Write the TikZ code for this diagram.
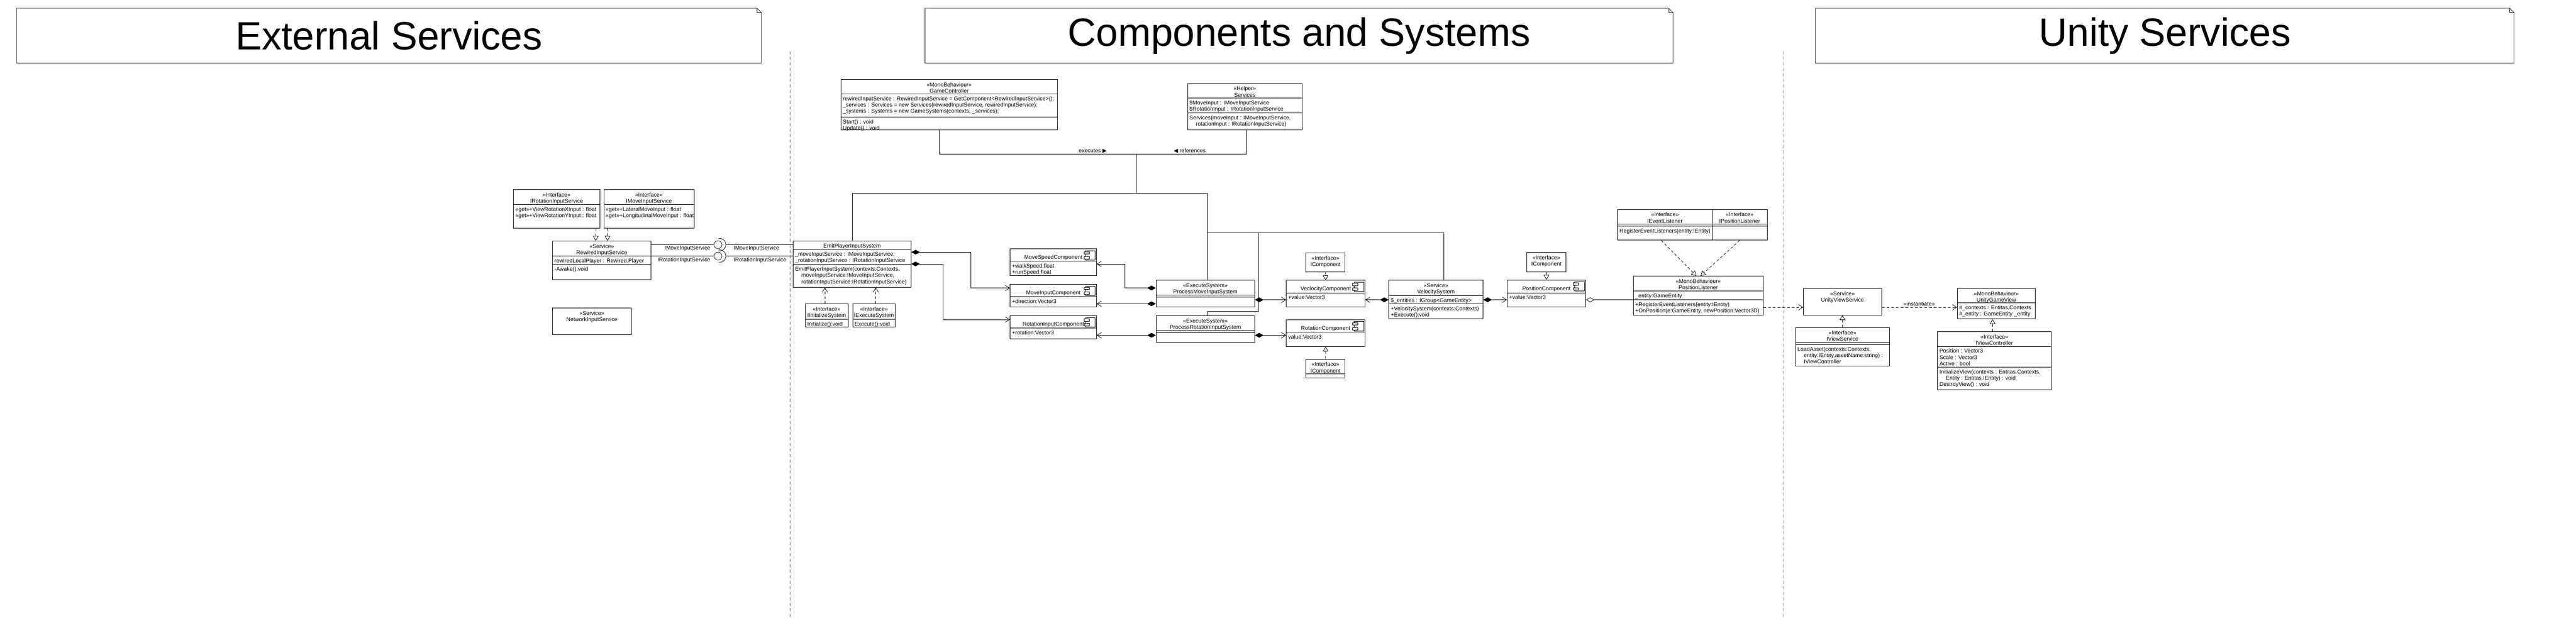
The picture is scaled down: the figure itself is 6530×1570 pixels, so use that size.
\documentclass[tikz,border=0pt]{standalone}
\usepackage{fontspec}
\setmainfont{Liberation Sans}
\newfontfamily\symfont{DejaVu Sans}
\usetikzlibrary{arrows.meta,calc}

\begin{document}
\begin{tikzpicture}[x=1pt,y=1pt,yscale=-1,xscale=1,line width=1pt,
  every node/.style={inner sep=0pt,font=\fontsize{14}{16}\selectfont},
  cls/.style={draw,anchor=north west},
  hdr/.style={anchor=north,align=center},
  txt/.style={anchor=north west,align=left},
  note title/.style={anchor=north west,font=\fontsize{100}{110}\selectfont},
  divider/.style={black!60,dash pattern=on 8pt off 6pt},
  realize/.style={dash pattern=on 7pt off 5pt,-{Triangle[open,length=12pt,width=14pt]}},
  depend/.style={dash pattern=on 7pt off 5pt,-{Straight Barb[length=11pt,width=14pt]}},
  compose/.style={{Diamond[length=22pt,width=12pt]}-{Straight Barb[length=11pt,width=14pt]}},
  aggreg/.style={{Diamond[open,length=22pt,width=12pt]}-},
  compicon/.pic={
    \draw[fill=white] (-24,0) rectangle (0,-24);
    \draw[fill=white] (-28,-3) rectangle (-15,-9);
    \draw[fill=white] (-28,-15) rectangle (-15,-21);
  }]
\useasboundingbox (0,0) rectangle (6530,1570);

%Shape: Note titles
\node[note title,minimum width=1887,minimum height=138] (extTitle) at (42,21) {External Services};
\node[note title,minimum width=1895,minimum height=138] (compTitle) at (2345,21) {Components and Systems};
\node[note title,minimum width=1770,minimum height=138] (unityTitle) at (4602,21) {Unity Services};
\draw (extTitle.north west) -- ($(extTitle.north east)+(-11,0)$) -- ($(extTitle.north east)+(0,11)$) -- (extTitle.south east) -- (extTitle.south west) -- cycle;
\draw ($(extTitle.north east)+(-11,0)$) |- ($(extTitle.north east)+(0,11)$);
\draw (compTitle.north west) -- ($(compTitle.north east)+(-11,0)$) -- ($(compTitle.north east)+(0,11)$) -- (compTitle.south east) -- (compTitle.south west) -- cycle;
\draw ($(compTitle.north east)+(-11,0)$) |- ($(compTitle.north east)+(0,11)$);
\draw (unityTitle.north west) -- ($(unityTitle.north east)+(-11,0)$) -- ($(unityTitle.north east)+(0,11)$) -- (unityTitle.south east) -- (unityTitle.south west) -- cycle;
\draw ($(unityTitle.north east)+(-11,0)$) |- ($(unityTitle.north east)+(0,11)$);

%Straight Lines: dividers
\draw[divider] (2002,130) -- (2002,1570);
\draw[divider] (4522,130) -- (4522,1570);

%%%%%%%% External Services
% Class: IRotationInputService
\node[cls,minimum width=219,minimum height=98] (IRotIn) at (1301,481) {};
\draw ($(IRotIn.north west)+(0,38)$) -- ($(IRotIn.north east)+(0,38)$);
\node[hdr] (IRotInH) at ($(IRotIn.north)+(0,7)$) {\strut«Interface»\\IRotationInputService};
\node[txt] (IRotInA) at ($(IRotIn.north west)+(5,43)$) {\strut«get»+ViewRotationXInput : float\\«get»+ViewRotationYInput : float};
% Class: IMoveInputService
\node[cls,minimum width=229,minimum height=98] (IMoveIn) at (1530,481) {};
\draw ($(IMoveIn.north west)+(0,38)$) -- ($(IMoveIn.north east)+(0,38)$);
\node[hdr] (IMoveInH) at ($(IMoveIn.north)+(0,7)$) {\strut«Interface»\\IMoveInputService};
\node[txt] (IMoveInA) at ($(IMoveIn.north west)+(5,43)$) {\strut«get»+LateralMoveInput : float\\«get»+LongitudinalMoveInput : float};
% Class: RewiredInputService
\node[cls,minimum width=250,minimum height=98] (Rewired) at (1400,611) {};
\draw ($(Rewired.north west)+(0,39)$) -- ($(Rewired.north east)+(0,39)$);
\draw ($(Rewired.north west)+(0,60)$) -- ($(Rewired.north east)+(0,60)$);
\node[hdr] (RewiredH) at ($(Rewired.north)+(0,7)$) {\strut«Service»\\RewiredInputService};
\node[txt] (RewiredA) at ($(Rewired.north west)+(5,44)$) {\strut rewiredLocalPlayer : Rewired.Player};
\node[txt] (RewiredO) at ($(Rewired.north west)+(5,65)$) {\strut-Awake():void};
% Class: NetworkInputService
\node[cls,minimum width=200,minimum height=68] (NetIn) at (1400,781) {};
\node[hdr] (NetInH) at ($(NetIn.north)+(0,7)$) {\strut«Service»\\NetworkInputService};

% Realizations
\draw[realize] ($(IRotIn.south east)+(-10,0)$) -- ($(Rewired.north west)+(110,0)$);
\draw[realize] ($(IMoveIn.south west)+(10,0)$) -- ($(Rewired.north west)+(140,0)$);

%%%%%%%% Components and Systems
% Class: EmitPlayerInputSystem
\node[cls,minimum width=299,minimum height=118] (Emit) at (2010,611) {};
\draw ($(Emit.north west)+(0,22)$) -- ($(Emit.north east)+(0,22)$);
\draw ($(Emit.north west)+(0,60)$) -- ($(Emit.north east)+(0,60)$);
\node[hdr] (EmitH) at ($(Emit.north)+(0,6)$) {\strut EmitPlayerInputSystem};
\node[txt] (EmitA) at ($(Emit.north west)+(5,27)$) {\strut\_moveInputService : IMoveInputService;\\\_rotationInputService : IRotationInputService};
\node[txt] (EmitO) at ($(Emit.north west)+(5,65)$) {\strut EmitPlayerInputSystem(contexts:Contexts,\\\hspace*{16pt}moveInputService:IMoveInputService,\\\hspace*{16pt}rotationInputService:IRotationInputService)};
% Class: IInitalizeSystem
\node[cls,minimum width=108,minimum height=58] (IInit) at (2041,771) {};
\draw ($(IInit.north west)+(0,39)$) -- ($(IInit.north east)+(0,39)$);
\node[hdr] (IInitH) at ($(IInit.north)+(0,7)$) {\strut«Interface»\\IInitalizeSystem};
\node[txt] (IInitO) at ($(IInit.north west)+(5,44)$) {\strut Initialize():void};
% Class: IExecuteSystem
\node[cls,minimum width=108,minimum height=58] (IExec) at (2161,771) {};
\draw ($(IExec.north west)+(0,39)$) -- ($(IExec.north east)+(0,39)$);
\node[hdr] (IExecH) at ($(IExec.north)+(0,7)$) {\strut«Interface»\\IExecuteSystem};
\node[txt] (IExecO) at ($(IExec.north west)+(5,44)$) {\strut Execute():void};

% Provided / required interfaces
\coordinate (sockM) at (1820,621);
\coordinate (sockR) at (1820,650);
\draw ($(Rewired.north east)+(0,10)$) -- ($(sockM)+(-10,0)$);
\draw ($(Rewired.north east)+(0,39)$) -- ($(sockR)+(-10,0)$);
\draw (sockM) circle[radius=10];
\draw (sockR) circle[radius=10];
\draw ($(sockM)+(4,0)+(100:16)$) arc[start angle=100,end angle=-100,radius=16];
\draw ($(sockR)+(4,0)+(100:16)$) arc[start angle=100,end angle=-100,radius=16];
\draw ($(sockM)+(20,0)$) -- (Emit.west |- sockM);
\draw ($(sockR)+(20,0)$) -- (Emit.west |- sockR);
\node[anchor=base east] (sockLblM1) at (1801,634) {IMoveInputService};
\node[anchor=base east] (sockLblR1) at (1801,664) {IRotationInputService};
\node[anchor=base west] (sockLblM2) at (1859,634) {IMoveInputService};
\node[anchor=base west] (sockLblR2) at (1859,664) {IRotationInputService};

% Class: GameController
\node[cls,minimum width=549,minimum height=128] (GameCtrl) at (2131,201) {};
\draw ($(GameCtrl.north west)+(0,37)$) -- ($(GameCtrl.north east)+(0,37)$);
\draw ($(GameCtrl.north west)+(0,96)$) -- ($(GameCtrl.north east)+(0,96)$);
\node[hdr] (GameCtrlH) at ($(GameCtrl.north)+(0,7)$) {\strut«MonoBehaviour»\\GameController};
\node[txt] (GameCtrlA) at ($(GameCtrl.north west)+(5,42)$) {\strut rewiredInputService : RewiredInputService = GetComponent<RewiredInputService>();\\\_services : Services = new Services(rewiredInputService, rewiredInputService);\\\_systems : Systems = new GameSystems(contexts, \_services);};
\node[txt] (GameCtrlO) at ($(GameCtrl.north west)+(5,101)$) {\strut Start() : void\\Update() : void};
% Class: Services
\node[cls,minimum width=290,minimum height=118] (ServicesH) at (3010,211) {};
\draw ($(ServicesH.north west)+(0,38)$) -- ($(ServicesH.north east)+(0,38)$);
\draw ($(ServicesH.north west)+(0,76)$) -- ($(ServicesH.north east)+(0,76)$);
\node[hdr] (ServicesHH) at ($(ServicesH.north)+(0,7)$) {\strut«Helper»\\Services};
\node[txt] (ServicesHA) at ($(ServicesH.north west)+(5,43)$) {\strut\$MoveInput : IMoveInputService\\\$RotationInput : IRotationInputService};
\node[txt] (ServicesHO) at ($(ServicesH.north west)+(5,81)$) {\strut Services(moveInput : IMoveInputService,\\\hspace*{16pt}rotationInput : IRotationInputService)};

% Class: MoveSpeedComponent
\node[cls,minimum width=219,minimum height=68] (MoveSpeed) at (2560,631) {};
\draw ($(MoveSpeed.north west)+(0,32)$) -- ($(MoveSpeed.north east)+(0,32)$);
\node[hdr] (MoveSpeedH) at ($(MoveSpeed.north)+(0,15)$) {\strut MoveSpeedComponent};
\node[txt] (MoveSpeedA) at ($(MoveSpeed.north west)+(5,37)$) {\strut+walkSpeed:float\\+runSpeed:float};
\pic at ($(MoveSpeed.north east)+(-4,5)$) {compicon};
% Class: MoveInputComponent
\node[cls,minimum width=219,minimum height=58] (MoveInC) at (2560,721) {};
\draw ($(MoveInC.north west)+(0,32)$) -- ($(MoveInC.north east)+(0,32)$);
\node[hdr] (MoveInCH) at ($(MoveInC.north)+(0,15)$) {\strut MoveInputComponent};
\node[txt] (MoveInCA) at ($(MoveInC.north west)+(5,37)$) {\strut+direction:Vector3};
\pic at ($(MoveInC.north east)+(-4,5)$) {compicon};
% Class: RotationInputComponent
\node[cls,minimum width=219,minimum height=58] (RotInC) at (2560,801) {};
\draw ($(RotInC.north west)+(0,32)$) -- ($(RotInC.north east)+(0,32)$);
\node[hdr] (RotInCH) at ($(RotInC.north)+(0,15)$) {\strut RotationInputComponent};
\node[txt] (RotInCA) at ($(RotInC.north west)+(5,37)$) {\strut+rotation:Vector3};
\pic at ($(RotInC.north east)+(-4,5)$) {compicon};

% Class: ProcessMoveInputSystem
\node[cls,minimum width=250,minimum height=68] (ProcMove) at (2930,711) {};
\draw ($(ProcMove.north west)+(0,38)$) -- ($(ProcMove.north east)+(0,38)$);
\draw ($(ProcMove.north west)+(0,43)$) -- ($(ProcMove.north east)+(0,43)$);
\node[hdr] (ProcMoveH) at ($(ProcMove.north)+(0,7)$) {\strut«ExecuteSystem»\\ProcessMoveInputSystem};
% Class: ProcessRotationInputSystem
\node[cls,minimum width=250,minimum height=68] (ProcRot) at (2930,801) {};
\draw ($(ProcRot.north west)+(0,38)$) -- ($(ProcRot.north east)+(0,38)$);
\draw ($(ProcRot.north west)+(0,43)$) -- ($(ProcRot.north east)+(0,43)$);
\node[hdr] (ProcRotH) at ($(ProcRot.north)+(0,7)$) {\strut«ExecuteSystem»\\ProcessRotationInputSystem};

% Class: IComponent (velocity)
\node[cls,minimum width=99,minimum height=48] (ICompA) at (3310,641) {};
\node[hdr] (ICompAH) at ($(ICompA.north)+(0,7)$) {\strut«Interface»\\IComponent};
% Class: VeclocityComponent
\node[cls,minimum width=200,minimum height=68] (VelC) at (3260,711) {};
\draw ($(VelC.north west)+(0,32)$) -- ($(VelC.north east)+(0,32)$);
\node[hdr] (VelCH) at ($(VelC.north)+(0,15)$) {\strut VeclocityComponent};
\node[txt] (VelCA) at ($(VelC.north west)+(5,37)$) {\strut+value:Vector3};
\pic at ($(VelC.north east)+(-4,5)$) {compicon};
% Class: RotationComponent
\node[cls,minimum width=200,minimum height=68] (RotC) at (3260,811) {};
\draw ($(RotC.north west)+(0,32)$) -- ($(RotC.north east)+(0,32)$);
\node[hdr] (RotCH) at ($(RotC.north)+(0,15)$) {\strut RotationComponent};
\node[txt] (RotCA) at ($(RotC.north west)+(5,37)$) {\strut value:Vector3};
\pic at ($(RotC.north east)+(-4,5)$) {compicon};
% Class: IComponent (rotation)
\node[cls,minimum width=99,minimum height=48] (ICompB) at (3310,911) {};
\draw ($(ICompB.north west)+(0,38)$) -- ($(ICompB.north east)+(0,38)$);
\node[hdr] (ICompBH) at ($(ICompB.north)+(0,7)$) {\strut«Interface»\\IComponent};

% Class: VelocitySystem
\node[cls,minimum width=239,minimum height=98] (VelSys) at (3520,711) {};
\draw ($(VelSys.north west)+(0,39)$) -- ($(VelSys.north east)+(0,39)$);
\draw ($(VelSys.north west)+(0,60)$) -- ($(VelSys.north east)+(0,60)$);
\node[hdr] (VelSysH) at ($(VelSys.north)+(0,7)$) {\strut«Service»\\VelocitySystem};
\node[txt] (VelSysA) at ($(VelSys.north west)+(5,44)$) {\strut\$\_entities : IGroup<GameEntity>};
\node[txt] (VelSysO) at ($(VelSys.north west)+(5,65)$) {\strut+VelocitySystem(contexts:Contexts)\\+Execute():void};

% Class: IComponent (position)
\node[cls,minimum width=99,minimum height=49] (ICompC) at (3870,640) {};
\node[hdr] (ICompCH) at ($(ICompC.north)+(0,7)$) {\strut«Interface»\\IComponent};
% Class: PositionComponent
\node[cls,minimum width=199,minimum height=69] (PosC) at (3820,710) {};
\draw ($(PosC.north west)+(0,33)$) -- ($(PosC.north east)+(0,33)$);
\node[hdr] (PosCH) at ($(PosC.north)+(0,15)$) {\strut PositionComponent};
\node[txt] (PosCA) at ($(PosC.north west)+(5,38)$) {\strut+value:Vector3};
\pic at ($(PosC.north east)+(-4,5)$) {compicon};

% Class: IEventListener
\node[cls,minimum width=240,minimum height=78] (IEvt) at (4100,531) {};
\draw ($(IEvt.north west)+(0,38)$) -- ($(IEvt.north east)+(0,38)$);
\draw ($(IEvt.north west)+(0,43)$) -- ($(IEvt.north east)+(0,43)$);
\node[hdr] (IEvtH) at ($(IEvt.north)+(0,7)$) {\strut«Interface»\\IEventListener};
\node[txt] (IEvtO) at ($(IEvt.north west)+(5,48)$) {\strut RegisterEventListeners(entity:IEntity)};
% Class: IPositionListener
\node[cls,minimum width=139,minimum height=78] (IPosL) at (4340,531) {};
\draw ($(IPosL.north west)+(0,38)$) -- ($(IPosL.north east)+(0,38)$);
\draw ($(IPosL.north west)+(0,43)$) -- ($(IPosL.north east)+(0,43)$);
\node[hdr] (IPosLH) at ($(IPosL.north)+(0,7)$) {\strut«Interface»\\IPositionListener};
% Class: PositionListener
\node[cls,minimum width=329,minimum height=99] (PosL) at (4140,700) {};
\draw ($(PosL.north west)+(0,39)$) -- ($(PosL.north east)+(0,39)$);
\draw ($(PosL.north west)+(0,61)$) -- ($(PosL.north east)+(0,61)$);
\node[hdr] (PosLH) at ($(PosL.north)+(0,7)$) {\strut«MonoBehaviour»\\PositionListener};
\node[txt] (PosLA) at ($(PosL.north west)+(5,44)$) {\strut\_entity:GameEntity};
\node[txt] (PosLO) at ($(PosL.north west)+(5,66)$) {\strut+RegisterEventListeners(entity:IEntity)\\+OnPosition(e:GameEntity, newPosition:Vector3D)};

% Connectors: controller, services, systems
\draw ($(GameCtrl.south west)+(250,0)$) -- ++(0,61) -| ($(ServicesH.south west)+(150,0)$);
\node[anchor=base] (execLbl) at (2770,387) {executes {\symfont ▶}};
\node[anchor=base] (refLbl) at (3016,387) {{\symfont ◀} references};
\coordinate (jExe) at (2880,390);
\coordinate (jSys) at (3060,490);
\coordinate (jVel) at (3060,591);
\coordinate (jRot) at (3190,591);
\draw (jExe) -- (jExe |- jSys);
\draw ($(Emit.north west)+(150,0)$) |- (jSys) -- ($(ProcMove.north west)+(130,0)$);
\draw (jVel) -| ($(VelSys.north west)+(140,0)$);
\draw (jRot) -- ++(0,199) -| ($(ProcRot.north west)+(130,0)$);

% Connectors: compositions
\draw[compose] ($(Emit.north east)+(0,29)$) -- ++(151,0) |- ($(MoveInC.north west)+(0,10)$);
\draw[compose] ($(Emit.north east)+(0,59)$) -- ++(81,0) |- ($(RotInC.north west)+(0,10)$);
\draw[compose] ($(ProcMove.north west)+(0,20)$) -- ++(-79,0) |- ($(MoveSpeed.north east)+(0,39)$);
\draw[compose] ($(ProcMove.north west)+(0,60)$) -- ($(MoveInC.north east)+(0,50)$);
\draw[compose] ($(ProcRot.north west)+(0,50)$) -- ($(RotInC.north east)+(0,50)$);
\draw[compose] ($(ProcMove.north east)+(0,50)$) -- ($(VelC.north west)+(0,50)$);
\draw[compose] ($(ProcRot.north east)+(0,50)$) -- ($(RotC.north west)+(0,40)$);
\draw[compose] ($(VelSys.north west)+(0,50)$) -- ($(VelC.north east)+(0,50)$);
\draw[compose] ($(VelSys.north east)+(0,50)$) -- ($(PosC.north west)+(0,51)$);
\draw[aggreg] ($(PosC.north east)+(0,51)$) -- ($(PosL.north west)+(0,61)$);

% Connectors: realizations and dependencies
\draw[depend] ($(IInit.north west)+(50,0)$) -- ($(Emit.south west)+(81,0)$);
\draw[depend] ($(IExec.north west)+(59,0)$) -- ($(Emit.south west)+(210,0)$);
\draw[realize] (ICompA.south) -- (VelC.north);
\draw[realize] (ICompB.north) -- (RotC.south);
\draw[realize] (ICompC.south) -- (PosC.north);
\draw[realize] ($(IEvt.south west)+(111,0)$) -- ($(PosL.north west)+(160,0)$);
\draw[realize] ($(IPosL.south west)+(70,0)$) -- ($(PosL.north west)+(171,0)$);

%%%%%%%% Unity Services
% Class: UnityViewService
\node[cls,minimum width=198,minimum height=68] (UViewSvc) at (4571,731) {};
\node[hdr] (UViewSvcH) at ($(UViewSvc.north)+(0,7)$) {\strut«Service»\\UnityViewService};
% Class: IViewService
\node[cls,minimum width=238,minimum height=98] (IViewSvc) at (4551,831) {};
\draw ($(IViewSvc.north west)+(0,38)$) -- ($(IViewSvc.north east)+(0,38)$);
\draw ($(IViewSvc.north west)+(0,43)$) -- ($(IViewSvc.north east)+(0,43)$);
\node[hdr] (IViewSvcH) at ($(IViewSvc.north)+(0,7)$) {\strut«Interface»\\IViewService};
\node[txt] (IViewSvcO) at ($(IViewSvc.north west)+(5,48)$) {\strut LoadAsset(contexts:Contexts,\\\hspace*{16pt}entity:IEntity,assetName:string) :\\\hspace*{16pt}IViewController};
% Class: UnityGameView
\node[cls,minimum width=198,minimum height=78] (UGameView) at (4961,731) {};
\draw ($(UGameView.north west)+(0,38)$) -- ($(UGameView.north east)+(0,38)$);
\node[hdr] (UGameViewH) at ($(UGameView.north)+(0,7)$) {\strut«MonoBehaviour»\\UnityGameView};
\node[txt] (UGameViewA) at ($(UGameView.north west)+(5,43)$) {\strut\#\_contexts : Entitas.Contexts\\\#\_entity : GameEntity \_entity};
% Class: IViewController
\node[cls,minimum width=288,minimum height=148] (IViewCtrl) at (4911,841) {};
\draw ($(IViewCtrl.north west)+(0,38)$) -- ($(IViewCtrl.north east)+(0,38)$);
\draw ($(IViewCtrl.north west)+(0,91)$) -- ($(IViewCtrl.north east)+(0,91)$);
\node[hdr] (IViewCtrlH) at ($(IViewCtrl.north)+(0,7)$) {\strut«Interface»\\IViewController};
\node[txt] (IViewCtrlA) at ($(IViewCtrl.north west)+(5,43)$) {\strut Position : Vector3\\Scale : Vector3\\Active : bool};
\node[txt] (IViewCtrlO) at ($(IViewCtrl.north west)+(5,96)$) {\strut InitializeView(contexts : Entitas.Contexts,\\\hspace*{16pt}Entity : Entitas.IEntity) : void\\DestroyView() : void};

% Connectors: unity side
\draw[depend] ($(PosL.north east)+(0,80)$) -- ($(UViewSvc.north west)+(0,49)$);
\draw[depend] ($(UViewSvc.north east)+(0,49)$) -- ($(UGameView.north west)+(0,49)$);
\node[anchor=base] (instLbl) at (4865,777) {«instantiate»};
\draw[realize] (IViewSvc.north) -- (UViewSvc.south);
\draw[realize] ($(IViewCtrl.north west)+(140,0)$) -- ($(UGameView.south west)+(90,0)$);
\end{tikzpicture}
\end{document}
